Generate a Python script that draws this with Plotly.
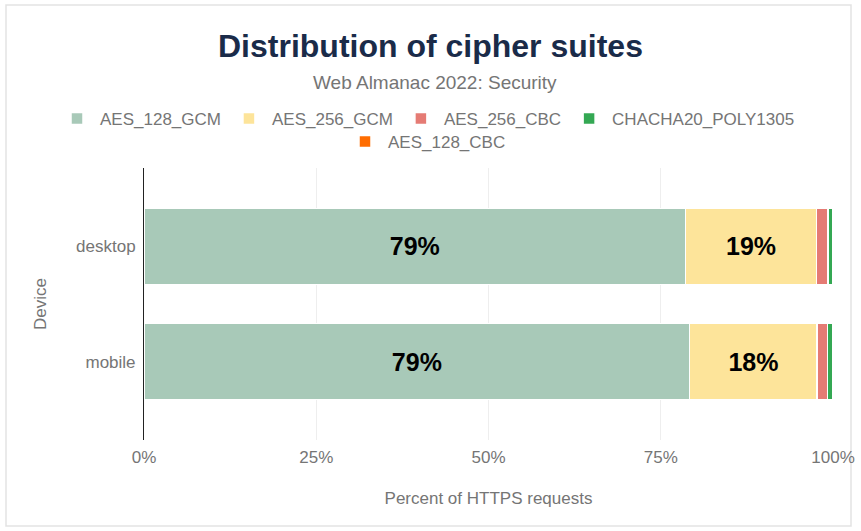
import plotly.graph_objects as go

devices = ["desktop", "mobile"]
series_names = ["AES_128_GCM", "AES_256_GCM", "AES_256_CBC", "CHACHA20_POLY1305", "AES_128_CBC"]
values = {
    "AES_128_GCM": [78.6, 79.2],
    "AES_256_GCM": [19.0, 18.5],
    "AES_256_CBC": [1.7, 1.5],
    "CHACHA20_POLY1305": [0.6, 0.7],
    "AES_128_CBC": [0.1, 0.1],
}
colors = ["#a8c9b8", "#fde49a", "#e57b74", "#34a853", "#ff6d01"]
legend_ids = ["legend", "legend", "legend", "legend", "legend2"]
tick_vals = [0, 25, 50, 75, 100]
tick_text = ["0%", "25%", "50%", "75%", "100%"]

W, H = 861, 531
L, R, T, B = 144, 28, 168, 91
pw, ph = W - L - R, H - T - B


def px_x(x):
    return (x - L) / pw


def px_y(y):
    return (H - B - y) / ph


fig = go.Figure()
for name, col, lg in zip(series_names, colors, legend_ids):
    vals = values[name]
    txt = [f"{v:.0f}%" if v >= 10 else "" for v in vals]
    fig.add_trace(go.Bar(
        y=devices, x=vals, name=name, orientation="h", legend=lg,
        marker=dict(color=col, line=dict(color="white", width=1.5)),
        text=txt, textposition="inside", insidetextanchor="middle",
        textfont=dict(family="Liberation Sans", size=25, color="black", weight="bold"),
        hoverinfo="skip", width=0.66,
    ))

legend_font = dict(family="Liberation Sans", size=17, color="#757575")
fig.update_layout(
    width=W, height=H, barmode="stack",
    margin=dict(l=L, r=R, t=T, b=B, autoexpand=False),
    paper_bgcolor="white", plot_bgcolor="white",
    font=dict(family="Liberation Sans", color="#757575"),
    showlegend=True,
    legend=dict(orientation="h", x=px_x(54), xanchor="left",
                y=px_y(101), yanchor="top", font=legend_font,
                bgcolor="rgba(0,0,0,0)", traceorder="normal", itemwidth=36),
    legend2=dict(orientation="h", x=px_x(342), xanchor="left",
                 y=px_y(124), yanchor="top", font=legend_font,
                 bgcolor="rgba(0,0,0,0)", itemwidth=36),
    xaxis=dict(range=[0, 100], tickvals=tick_vals, ticktext=tick_text,
               showgrid=True, gridcolor="#eeeeee", zeroline=False, automargin=False,
               tickfont=dict(size=17, color="#757575"), ticks="", ticklen=0,
               ticklabelstandoff=5,
               title=dict(text="Percent of HTTPS requests", font=dict(size=17, color="#757575"), standoff=26),
               fixedrange=True),
    yaxis=dict(categoryorder="array", categoryarray=devices, autorange=False, automargin=False,
               range=[1.68, -0.68], showline=True, linecolor="#222222", linewidth=1,
               tickfont=dict(size=17, color="#757575"), ticks="", ticklabelstandoff=4,
               title=dict(text="Device", font=dict(size=17, color="#757575"), standoff=25),
               fixedrange=True),
)

fig.add_annotation(text="<b>Distribution of cipher suites</b>", xref="paper", yref="paper",
                   x=px_x(430), y=px_y(46), xanchor="center", yanchor="middle",
                   showarrow=False, font=dict(family="Liberation Sans", size=32, color="#1a2b49"))
fig.add_annotation(text="Web Almanac 2022: Security", xref="paper", yref="paper",
                   x=px_x(435), y=px_y(82), xanchor="center", yanchor="middle",
                   showarrow=False, font=dict(family="Liberation Sans", size=19, color="#757575"))

# card border
fig.add_shape(type="rect", xref="paper", yref="paper",
              x0=px_x(6), x1=px_x(851), y0=px_y(526), y1=px_y(5),
              line=dict(color="#e3e3e3", width=1.5), layer="below")

fig.write_html("out.html", config={"displayModeBar": False},
               post_script="document.body.style.margin='0';")
